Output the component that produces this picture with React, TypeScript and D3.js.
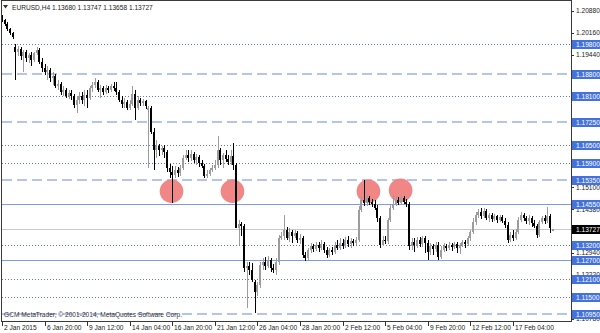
import React from 'react';
import * as d3 from 'd3';

const opens = [
  1.2068,1.2058,1.2045,1.2029,1.2016,1.1970,1.1954,1.1963,1.1940,1.1954,
  1.1934,1.1944,1.1927,1.1950,1.1960,1.1921,1.1901,1.1888,1.1895,1.1868,
  1.1875,1.1842,1.1849,1.1822,1.1829,1.1809,1.1819,1.1809,1.1780,1.1796,
  1.1809,1.1796,1.1813,1.1803,1.1836,1.1845,1.1855,1.1829,1.1836,1.1822,
  1.1836,1.1829,1.1842,1.1836,1.1822,1.1796,1.1783,1.1790,1.1770,1.1783,
  1.1816,1.1770,1.1796,1.1786,1.1793,1.1763,1.1770,1.1691,1.1632,1.1645,
  1.1632,1.1639,1.1626,1.1573,1.1560,1.1550,1.1567,1.1557,1.1573,1.1606,
  1.1616,1.1606,1.1619,1.1599,1.1609,1.1590,1.1580,1.1547,1.1553,1.1567,
  1.1573,1.1583,1.1632,1.1599,1.1616,1.1603,1.1593,1.1613,1.1583,1.1376,
  1.1390,1.1383,1.1245,1.1252,1.1239,1.1199,1.1167,1.1190,1.1255,1.1265,
  1.1252,1.1271,1.1245,1.1239,1.1265,1.1344,1.1350,1.1370,1.1344,1.1363,
  1.1350,1.1360,1.1337,1.1344,1.1288,1.1278,1.1304,1.1317,1.1308,1.1321,
  1.1311,1.1324,1.1304,1.1288,1.1304,1.1298,1.1321,1.1311,1.1327,1.1317,
  1.1337,1.1324,1.1334,1.1327,1.1337,1.1435,1.1468,1.1458,1.1475,1.1462,
  1.1455,1.1442,1.1409,1.1321,1.1337,1.1334,1.1403,1.1442,1.1455,1.1468,
  1.1458,1.1475,1.1462,1.1455,1.1317,1.1331,1.1321,1.1337,1.1324,1.1344,
  1.1327,1.1298,1.1317,1.1308,1.1321,1.1281,1.1304,1.1317,1.1311,1.1321,
  1.1314,1.1324,1.1311,1.1321,1.1331,1.1324,1.1344,1.1363,1.1396,1.1419,
  1.1429,1.1416,1.1432,1.1409,1.1419,1.1406,1.1416,1.1403,1.1412,1.1399,
  1.1386,1.1337,1.1353,1.1344,1.1363,1.1403,1.1419,1.1409,1.1399,1.1409,
  1.1393,1.1383,1.1353,1.1396,1.1409,1.1399,1.1416,1.1368,
];

const highs = [
  1.2075,1.2062,1.2052,1.2032,1.2019,1.1980,1.1973,1.1970,1.1960,1.1960,
  1.1950,1.1954,1.1954,1.1970,1.1967,1.1934,1.1914,1.1908,1.1901,1.1888,
  1.1881,1.1862,1.1855,1.1842,1.1836,1.1829,1.1829,1.1816,1.1809,1.1822,
  1.1822,1.1829,1.1829,1.1842,1.1855,1.1868,1.1862,1.1845,1.1842,1.1845,
  1.1842,1.1849,1.1855,1.1855,1.1829,1.1809,1.1803,1.1796,1.1796,1.1842,
  1.1829,1.1809,1.1803,1.1799,1.1796,1.1776,1.1776,1.1704,1.1665,1.1652,
  1.1645,1.1649,1.1632,1.1586,1.1580,1.1580,1.1576,1.1583,1.1616,1.1632,
  1.1632,1.1632,1.1626,1.1619,1.1616,1.1599,1.1586,1.1567,1.1573,1.1583,
  1.1599,1.1678,1.1639,1.1622,1.1632,1.1616,1.1632,1.1655,1.1590,1.1403,
  1.1396,1.1390,1.1265,1.1265,1.1262,1.1206,1.1199,1.1265,1.1278,1.1281,
  1.1285,1.1278,1.1258,1.1278,1.1353,1.1363,1.1419,1.1380,1.1376,1.1370,
  1.1370,1.1367,1.1357,1.1350,1.1298,1.1311,1.1327,1.1324,1.1331,1.1331,
  1.1337,1.1331,1.1314,1.1311,1.1314,1.1331,1.1337,1.1344,1.1340,1.1347,
  1.1350,1.1344,1.1340,1.1347,1.1449,1.1478,1.1534,1.1485,1.1481,1.1472,
  1.1468,1.1452,1.1416,1.1350,1.1350,1.1409,1.1452,1.1485,1.1481,1.1478,
  1.1481,1.1481,1.1472,1.1462,1.1344,1.1344,1.1347,1.1347,1.1350,1.1350,
  1.1337,1.1327,1.1324,1.1331,1.1331,1.1317,1.1327,1.1324,1.1331,1.1327,
  1.1331,1.1331,1.1327,1.1337,1.1337,1.1350,1.1370,1.1409,1.1429,1.1439,
  1.1442,1.1442,1.1439,1.1426,1.1426,1.1422,1.1419,1.1419,1.1419,1.1409,
  1.1396,1.1363,1.1370,1.1373,1.1412,1.1429,1.1426,1.1416,1.1419,1.1416,
  1.1403,1.1390,1.1403,1.1416,1.1419,1.1445,1.1422,1.13747,
];

const lows = [
  1.2052,1.2039,1.2022,1.2009,1.1996,1.1862,1.1940,1.1927,1.1888,1.1921,
  1.1917,1.1908,1.1921,1.1944,1.1914,1.1888,1.1878,1.1862,1.1855,1.1845,
  1.1836,1.1829,1.1813,1.1809,1.1803,1.1799,1.1796,1.1770,1.1754,1.1783,
  1.1783,1.1776,1.1770,1.1796,1.1822,1.1836,1.1822,1.1803,1.1813,1.1816,
  1.1819,1.1822,1.1826,1.1813,1.1790,1.1770,1.1770,1.1763,1.1763,1.1776,
  1.1731,1.1763,1.1776,1.1776,1.1767,1.1573,1.1685,1.1567,1.1606,1.1613,
  1.1616,1.1606,1.1560,1.1540,1.1458,1.1540,1.1544,1.1547,1.1567,1.1599,
  1.1593,1.1596,1.1590,1.1583,1.1576,1.1573,1.1540,1.1540,1.1547,1.1560,
  1.1567,1.1573,1.1583,1.1573,1.1593,1.1583,1.1583,1.1567,1.1380,1.1321,
  1.1350,1.1232,1.1114,1.1222,1.1199,1.1098,1.1153,1.1180,1.1239,1.1239,
  1.1245,1.1232,1.1229,1.1222,1.1255,1.1337,1.1337,1.1337,1.1331,1.1327,
  1.1344,1.1327,1.1324,1.1278,1.1268,1.1271,1.1294,1.1298,1.1301,1.1298,
  1.1304,1.1294,1.1278,1.1281,1.1288,1.1291,1.1304,1.1304,1.1308,1.1311,
  1.1314,1.1311,1.1317,1.1321,1.1331,1.1429,1.1449,1.1449,1.1452,1.1445,
  1.1435,1.1396,1.1311,1.1317,1.1324,1.1324,1.1396,1.1435,1.1449,1.1452,
  1.1452,1.1455,1.1445,1.1304,1.1304,1.1298,1.1311,1.1314,1.1314,1.1294,
  1.1271,1.1288,1.1288,1.1298,1.1271,1.1275,1.1298,1.1301,1.1304,1.1301,
  1.1308,1.1294,1.1291,1.1314,1.1311,1.1317,1.1334,1.1357,1.1386,1.1409,
  1.1406,1.1409,1.1403,1.1396,1.1396,1.1399,1.1393,1.1396,1.1393,1.1376,
  1.1327,1.1331,1.1334,1.1337,1.1357,1.1396,1.1399,1.1390,1.1386,1.1380,
  1.1376,1.1344,1.1347,1.1390,1.1390,1.1393,1.1360,1.13658,
];

const closes = [
  1.2058,1.2045,1.2029,1.2016,1.2003,1.1954,1.1963,1.1940,1.1954,1.1934,
  1.1944,1.1927,1.1950,1.1960,1.1921,1.1901,1.1888,1.1895,1.1868,1.1875,
  1.1842,1.1849,1.1822,1.1829,1.1809,1.1819,1.1809,1.1780,1.1796,1.1809,
  1.1796,1.1813,1.1803,1.1836,1.1845,1.1855,1.1829,1.1836,1.1822,1.1836,
  1.1829,1.1842,1.1836,1.1822,1.1796,1.1783,1.1790,1.1770,1.1783,1.1816,
  1.1770,1.1796,1.1786,1.1793,1.1776,1.1770,1.1691,1.1632,1.1645,1.1632,
  1.1639,1.1626,1.1573,1.1560,1.1550,1.1567,1.1557,1.1573,1.1606,1.1616,
  1.1606,1.1619,1.1599,1.1609,1.1590,1.1580,1.1547,1.1553,1.1567,1.1573,
  1.1583,1.1632,1.1599,1.1616,1.1603,1.1593,1.1613,1.1583,1.1376,1.1390,
  1.1383,1.1245,1.1252,1.1239,1.1206,1.1167,1.1190,1.1255,1.1265,1.1252,
  1.1271,1.1245,1.1239,1.1265,1.1344,1.1350,1.1370,1.1344,1.1363,1.1350,
  1.1360,1.1337,1.1344,1.1288,1.1278,1.1304,1.1317,1.1308,1.1321,1.1311,
  1.1324,1.1304,1.1288,1.1304,1.1298,1.1321,1.1311,1.1327,1.1317,1.1337,
  1.1324,1.1334,1.1327,1.1337,1.1435,1.1468,1.1458,1.1475,1.1462,1.1455,
  1.1442,1.1409,1.1321,1.1337,1.1334,1.1403,1.1442,1.1455,1.1468,1.1458,
  1.1475,1.1462,1.1455,1.1317,1.1331,1.1321,1.1337,1.1324,1.1344,1.1327,
  1.1298,1.1317,1.1308,1.1321,1.1281,1.1304,1.1317,1.1311,1.1321,1.1314,
  1.1324,1.1311,1.1321,1.1331,1.1324,1.1344,1.1363,1.1396,1.1419,1.1429,
  1.1416,1.1432,1.1409,1.1419,1.1406,1.1416,1.1403,1.1412,1.1399,1.1386,
  1.1337,1.1353,1.1344,1.1363,1.1403,1.1419,1.1409,1.1399,1.1409,1.1393,
  1.1383,1.1353,1.1396,1.1409,1.1399,1.1416,1.1376,1.13727,
];

const levelPrices = [1.198, 1.188, 1.181, 1.1725, 1.165, 1.159, 1.1535, 1.1455, 1.132, 1.127, 1.121, 1.115, 1.1095];
const levelKinds = ['dot', 'dash', 'dot', 'dash', 'dot', 'dot', 'dash', 'solid', 'dot', 'solid', 'dot', 'dot', 'dash'];
const axisTicks = [1.2088, 1.2016, 1.1944, 1.1872, 1.18, 1.151, 1.1438, 1.1294, 1.1222, 1.1078];
const timeLabels = ['2 Jan 2015', '6 Jan 20:00', '9 Jan 12:00', '14 Jan 04:00', '16 Jan 20:00', '21 Jan 12:00', '26 Jan 04:00', '28 Jan 20:00', '2 Feb 12:00', '5 Feb 04:00', '9 Feb 20:00', '12 Feb 12:00', '17 Feb 04:00'];
const timeLabelBars = [0, 16, 32, 48, 64, 80, 96, 112, 128, 144, 160, 176, 192];
const circleBars = [63.7, 86.6, 137.7, 149.8];
const circlePrices = [1.1497, 1.1497, 1.1497, 1.1500];
const lastPrice = 1.13727;
const symbolText = 'EURUSD,H4  1.13680 1.13747 1.13658 1.13727';
const copyrightText = 'GCM MetaTrader, \u00a9 2001-2014, MetaQuotes Software Corp.';

const FONT = "'Liberation Sans', Arial, sans-serif";

export default function App() {
  const W = 600, H = 333;
  const left = 1, right = 571, top = 1, bottom = 321;
  const n = closes.length;
  const x = d3.scaleLinear().domain([0, 207]).range([2, 552.8]);
  const y = d3.scaleLinear().domain([1.1078, 1.2088]).range([319, 11]);
  const fs = 6.6;

  const lineStyle = (k: string) => {
    if (k === 'dot') return { stroke: '#5676e2', strokeWidth: 1, strokeDasharray: '1,2' };
    if (k === 'dash') return { stroke: '#b3c4f2', strokeWidth: 2, strokeDasharray: '10,5' };
    return { stroke: '#7f9ae8', strokeWidth: 1.2, strokeDasharray: undefined };
  };

  return (
    <svg width={W} height={H} style={{ position: 'absolute', left: 0, top: 0, background: '#fff' }} shapeRendering="crispEdges">
      <defs>
        <clipPath id="plot"><rect x={left} y={top} width={right - left} height={bottom - top} /></clipPath>
      </defs>
      <rect x={0} y={0} width={W} height={H} fill="#fff" />
      <g clipPath="url(#plot)">
        {levelPrices.map((p, i) => {
          const s = lineStyle(levelKinds[i]);
          const yy = Math.round(y(p)) + (levelKinds[i] === 'dash' ? 0 : 0.5);
          return <line key={'l' + i} x1={left + 1} x2={right} y1={yy} y2={yy} stroke={s.stroke} strokeWidth={s.strokeWidth} strokeDasharray={s.strokeDasharray} />;
        })}
        <line x1={left} x2={right} y1={Math.round(y(lastPrice)) + 0.5} y2={Math.round(y(lastPrice)) + 0.5} stroke="#c8c8c8" strokeWidth={1} />
        {circleBars.map((b, i) => (
          <circle key={'c' + i} cx={x(b)} cy={y(circlePrices[i])} r={11.8} fill="#f08080" opacity={0.95} shapeRendering="auto" />
        ))}
        {d3.range(n).map((i) => {
          const o = opens[i], c = closes[i], h = highs[i], l = lows[i];
          const bull = c >= o;
          const col = bull ? '#9c9c9c' : '#000';
          const cx = Math.round(x(i));
          const yt = Math.round(y(Math.max(o, c))), yb = Math.round(y(Math.min(o, c)));
          const yh = Math.round(y(h)), yl = Math.round(y(l));
          return (
            <g key={'k' + i}>
              <rect x={cx} y={yh} width={1} height={Math.max(1, yl - yh)} fill={col} />
              <rect x={cx - 1} y={yt} width={2} height={Math.max(1, yb - yt)} fill={col} />
            </g>
          );
        })}
      </g>
      <rect x={left + 0.5} y={top - 0.5} width={right - left} height={bottom - top + 0.5} fill="none" stroke="#3a3a3a" strokeWidth={1} />
      {/* right axis */}
      {axisTicks.map((p, i) => (
        <g key={'t' + i}>
          <line x1={right} x2={right + 3} y1={Math.round(y(p)) + 0.5} y2={Math.round(y(p)) + 0.5} stroke="#333" />
          <text x={right + 5} y={y(p)} dy="0.35em" fontSize={fs} fontFamily={FONT} fill="#222">{p.toFixed(5)}</text>
        </g>
      ))}
      {levelPrices.map((p, i) => (
        <g key={'b' + i}>
          <rect x={right + 1} y={Math.round(y(p)) - 4} width={W - right - 1} height={9} fill="#4472dc" />
          <text x={right + 5} y={Math.round(y(p)) + 0.5} dy="0.35em" fontSize={fs} fontFamily={FONT} fill="#fff">{p.toFixed(5)}</text>
        </g>
      ))}
      <rect x={right + 1} y={Math.round(y(lastPrice)) - 4} width={W - right - 1} height={9} fill="#000" />
      <text x={right + 5} y={Math.round(y(lastPrice)) + 0.5} dy="0.35em" fontSize={fs} fontFamily={FONT} fill="#fff">{lastPrice.toFixed(5)}</text>
      {/* time axis */}
      {timeLabels.map((t, i) => {
        const xx = Math.round(x(timeLabelBars[i])) + 0.5;
        return (
          <g key={'x' + i}>
            <line x1={xx} x2={xx} y1={bottom} y2={bottom + 5} stroke="#333" />
            <text x={xx + 1.5} y={330} fontSize={fs} fontFamily={FONT} fill="#222">{t}</text>
          </g>
        );
      })}
      {/* title */}
      <path d="M3,5 L8,5 L5.5,8.5 Z" fill="#333" shapeRendering="auto" />
      <text x={12} y={9.5} fontSize={fs} fontFamily={FONT} fill="#222">{symbolText}</text>
      <text x={4} y={317} fontSize={fs} fontFamily={FONT} fill="#333">{copyrightText}</text>
    </svg>
  );
}
